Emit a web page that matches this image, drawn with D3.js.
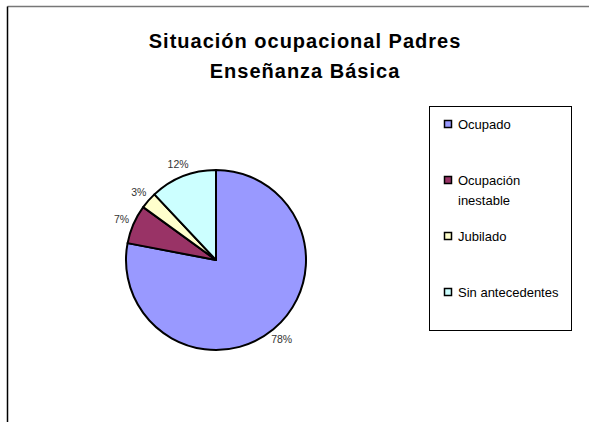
<!DOCTYPE html>
<html>
<head>
<meta charset="utf-8">
<script src="https://cdn.jsdelivr.net/npm/d3@7"></script>
<style>
  body { margin: 0; background: #fff; }
  text { font-family: "Liberation Sans", Arial, sans-serif; }
</style>
</head>
<body>
<div id="chart"></div>
<script>
var width = 589, height = 422;

var categories = ["Ocupado", "Ocupación inestable", "Jubilado", "Sin antecedentes"];
var values = [78, 7, 3, 12];
var labels = ["78%", "7%", "3%", "12%"];
var colors = ["#9999FF", "#993366", "#FFFFCC", "#CCFFFF"];

var svg = d3.select("#chart").append("svg")
    .attr("width", width)
    .attr("height", height);

// chart area frame (only top and left edges visible)
svg.append("line")
    .attr("x1", 7.5).attr("y1", 6.5).attr("x2", width).attr("y2", 6.5)
    .attr("stroke", "#777").attr("stroke-width", 1.5);
svg.append("line")
    .attr("x1", 7.5).attr("y1", 6.5).attr("x2", 7.5).attr("y2", height)
    .attr("stroke", "#000").attr("stroke-width", 1.5);

// title
var title = svg.append("text")
    .attr("text-anchor", "middle")
    .attr("font-weight", "bold")
    .attr("font-size", "20px")
    .attr("letter-spacing", "1px")
    .attr("fill", "#000");
title.append("tspan").attr("x", 305).attr("y", 48).text("Situación ocupacional Padres");
title.append("tspan").attr("x", 305).attr("y", 78).text("Enseñanza Básica");

// pie
var cx = 216, cy = 260, r = 90;
var pie = d3.pie().sort(null).value(function(d){ return d; });
var arcs = pie(values);
var arc = d3.arc().innerRadius(0).outerRadius(r);
var labelArc = d3.arc().innerRadius(r + 13).outerRadius(r + 13);

var g = svg.append("g").attr("transform", "translate(" + cx + "," + cy + ")");

g.selectAll(".slice")
    .data(arcs)
  .enter().append("path")
    .attr("class", "slice")
    .attr("d", arc)
    .attr("fill", function(d, i){ return colors[i]; })
    .attr("stroke", "#000")
    .attr("stroke-width", 2)
    .attr("stroke-linejoin", "round");

g.selectAll(".pct")
    .data(arcs)
  .enter().append("text")
    .attr("class", "pct")
    .attr("transform", function(d){ return "translate(" + labelArc.centroid(d) + ")"; })
    .attr("dy", ".35em")
    .attr("text-anchor", "middle")
    .attr("font-size", "10.5px")
    .attr("fill", "#333")
    .text(function(d, i){ return labels[i]; });

// legend
svg.append("rect")
    .attr("x", 429.5).attr("y", 106.5)
    .attr("width", 142).attr("height", 224)
    .attr("fill", "#fff")
    .attr("stroke", "#000").attr("stroke-width", 1);

var legendY = d3.scalePoint()
    .domain(categories)
    .range([129, 297]);

var items = svg.selectAll(".legend")
    .data(categories)
  .enter().append("g")
    .attr("class", "legend")
    .attr("transform", function(d){ return "translate(444," + legendY(d) + ")"; });

items.append("rect")
    .attr("x", 0.5).attr("y", -8.5)
    .attr("width", 7).attr("height", 7)
    .attr("fill", function(d, i){ return colors[i]; })
    .attr("stroke", "#000").attr("stroke-width", 1.5);

items.append("text")
    .attr("x", 14)
    .attr("y", 0)
    .attr("font-size", "13px")
    .attr("fill", "#000")
    .each(function(d){
      var t = d3.select(this);
      var parts = d === "Ocupación inestable" ? ["Ocupación", "inestable"] : [d];
      parts.forEach(function(p, k){
        t.append("tspan").attr("x", 14).attr("dy", k === 0 ? 0 : 20).text(p);
      });
    });
</script>
</body>
</html>
